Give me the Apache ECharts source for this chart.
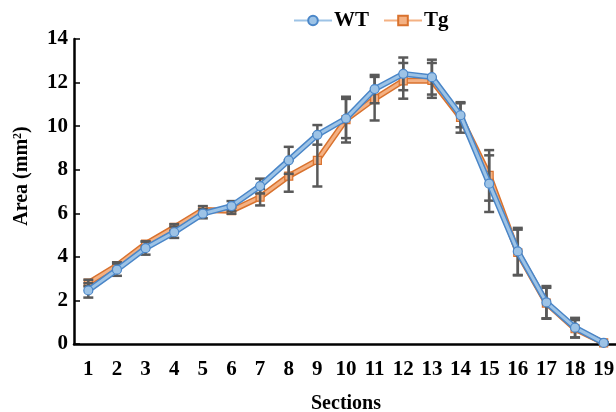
<!DOCTYPE html>
<html><head><meta charset="utf-8">
<script src="https://cdn.jsdelivr.net/npm/echarts@6/dist/echarts.min.js"></script>
<style>html,body{margin:0;padding:0;background:#fff}#c{width:616px;height:412px}</style>
</head><body><div id="c"></div>
<script>
const categories = ['1','2','3','4','5','6','7','8','9','10','11','12','13','14','15','16','17','18','19'];
const wt    = [2.46,3.41,4.40,5.13,5.98,6.33,7.25,8.43,9.60,10.35,11.70,12.40,12.25,10.50,7.36,4.25,1.91,0.75,0.05];
const wtErr = [0.33,0.28,0.30,0.26,0.21,0.23,0.34,0.62,0.45,0.90,0.65,0.75,0.80,0.55,1.30,1.08,0.75,0.45,0.03];
const tg    = [2.80,3.60,4.59,5.35,6.15,6.12,6.74,7.71,8.43,10.30,11.26,12.08,12.10,10.40,7.74,4.20,1.88,0.70,0.05];
const tgErr = [0.15,0.15,0.12,0.15,0.18,0.14,0.38,0.72,1.20,1.05,1.00,0.82,0.80,0.70,1.16,1.05,0.70,0.40,0.03];
const yTicks = [0,2,4,6,8,10,12,14];

const font = '"Liberation Serif","Times New Roman",serif';
function errSeries(vals, errs){
  return {
    type:'custom', silent:true, z:3,
    data: vals.map((v,i)=>[i, v, errs[i]]),
    encode:{x:0,y:1},
    renderItem:function(params, api){
      const i = api.value(0), v = api.value(1), e = api.value(2);
      const top = api.coord([i, v+e]), bot = api.coord([i, v-e]);
      const hw = 5;
      const st = {stroke:'#595959', lineWidth:2.5};
      return {type:'group', children:[
        {type:'line', shape:{x1:top[0],y1:top[1],x2:bot[0],y2:bot[1]}, style:st},
        {type:'line', shape:{x1:top[0]-hw,y1:top[1],x2:top[0]+hw,y2:top[1]}, style:st},
        {type:'line', shape:{x1:bot[0]-hw,y1:bot[1],x2:bot[0]+hw,y2:bot[1]}, style:st}
      ]};
    }
  };
}
const chart = echarts.init(document.getElementById('c'));
chart.setOption({
  animation:false,
  textStyle:{fontFamily:font},
  legend:{
    top:5, left:288, itemGap:14, itemWidth:38, itemHeight:12,
    data:['WT','Tg'],
    textStyle:{fontFamily:font, fontWeight:'bold', fontSize:21, color:'#000', padding:[0,0,0,-3]}
  },
  graphic:[{
    type:'text', x:22, y:176, rotation:Math.PI/2,
    style:{text:'Area (mm{sup|2})', fontFamily:font, fontWeight:'bold', fontSize:20, fill:'#000',
      align:'center', verticalAlign:'middle',
      rich:{sup:{fontFamily:font, fontWeight:'bold', fontSize:12, fill:'#000', verticalAlign:'top', padding:[0,0,9,0]}}}
  }],
  grid:{left:74, top:39, width:544, height:305, containLabel:false, outerBoundsMode:'none'},
  xAxis:{
    type:'category', data:categories, boundaryGap:true,
    name:'Sections', nameLocation:'middle', nameGap:50,
    nameTextStyle:{fontFamily:font, fontWeight:'bold', fontSize:20, color:'#000'},
    axisLine:{lineStyle:{color:'#000', width:2.5}},
    axisTick:{inside:true, length:5, lineStyle:{color:'#000', width:1.5}},
    axisLabel:{fontFamily:font, fontWeight:'bold', fontSize:21, color:'#000', margin:15, interval:0},
    splitLine:{show:false}
  },
  yAxis:{
    type:'value', min:0, max:14, interval:2,
    axisLine:{show:true, lineStyle:{color:'#000', width:2.5}},
    axisTick:{show:true, inside:true, length:6, lineStyle:{color:'#000', width:1.5}},
    axisLabel:{fontFamily:font, fontWeight:'bold', fontSize:21, color:'#000', margin:6,
      formatter:function(v){return yTicks.indexOf(v)>=0 ? String(v) : '';}},
    splitLine:{show:false}
  },
  series:[
    {type:'line', data:tg, z:1, symbol:'none', lineStyle:{color:'#d9722e', width:6}, silent:true},
    {name:'Tg', type:'line', data:tg, z:2, symbol:'rect', symbolSize:8,
      lineStyle:{color:'#f4b183', width:3},
      itemStyle:{color:'#f4b183', borderColor:'#d9722e', borderWidth:1.2}},
    errSeries(tg, tgErr),
    errSeries(wt, wtErr),
    {type:'line', data:wt, z:4, symbol:'none', lineStyle:{color:'#4a86c8', width:6}, silent:true},
    {name:'WT', type:'line', data:wt, z:5, symbol:'circle', symbolSize:9,
      lineStyle:{color:'#9dc3e6', width:3},
      itemStyle:{color:'#9dc3e6', borderColor:'#4a86c8', borderWidth:1.2}}
  ]
});
</script></body></html>
